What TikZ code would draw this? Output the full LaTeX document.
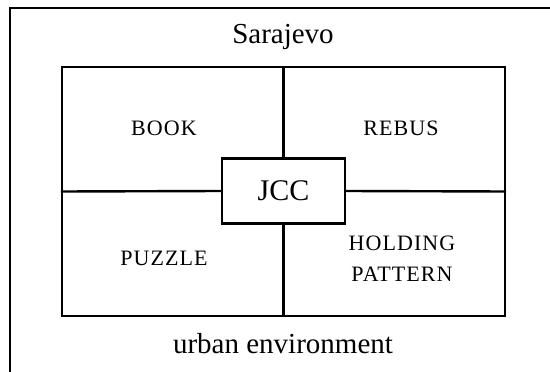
\documentclass[tikz,border=0pt]{standalone}
\usepackage{fontspec}
\setmainfont{Liberation Serif}

\tikzset{
  frameline/.style={line width=2.4pt},
  placelabel/.style={anchor=base,font=\fontsize{29}{34}\selectfont},
  quadlabel/.style={align=center,font=\fontsize{22}{31}\selectfont\addfontfeature{LetterSpace=5}},
}

\begin{document}
\begin{tikzpicture}[x=1pt,y=-1pt]
\useasboundingbox (0,0) rectangle (550,372);
\clip (0,0) rectangle (550,372);
% outer frame runs off the page on the right and below
\draw[frameline] (10,390) -- (10,8) -- (570,8);
\node[placelabel] (sarajevo) at (283,43) {Sarajevo};
\node[placelabel] (urban) at (283,353) {urban environment};
% the field and its centre box
\node[draw,frameline,inner sep=0pt,minimum width=443pt,minimum height=249pt] (field) at (283.5,191.5) {};
\node[draw,frameline,fill=white,inner sep=0pt,minimum width=123pt,minimum height=65pt,font=\fontsize{30}{34}\selectfont] (jcc) at (283.5,191) {JCC};
\draw[frameline] (field.north) -- (jcc.north);
\draw[frameline] (jcc.south) -- (field.south);
\draw[frameline] (field.west) -- (jcc.west);
\draw[frameline] (jcc.east) -- (field.east);
% quarter labels
\node[quadlabel] (book) at (164,128) {BOOK};
\node[quadlabel] (rebus) at (401,128) {REBUS};
\node[quadlabel] (puzzle) at (164,258.5) {PUZZLE};
\node[quadlabel] (holding) at (402,258.5) {HOLDING\\PATTERN};
\end{tikzpicture}
\end{document}
